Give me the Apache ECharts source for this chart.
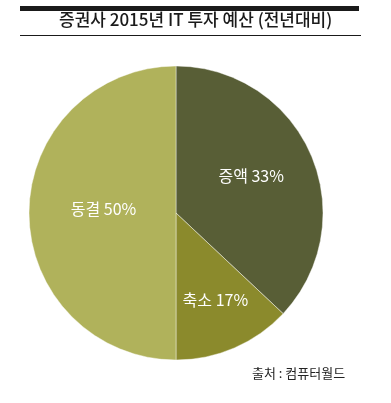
<!DOCTYPE html>
<html><head><meta charset="utf-8">
<script src="https://cdn.jsdelivr.net/npm/echarts@6/dist/echarts.min.js"></script>
<style>html,body{margin:0;padding:0;background:#fff}#c{width:391px;height:403px}</style>
</head><body><div id="c"></div>
<script>
const categories = ['증액', '축소', '동결'];
// percentages printed on the chart
const values = [33, 17, 50];
const sliceShares = [37, 13, 50];
const colors = ['#585e36', '#8b8a2c', '#b0b25b'];
const labelOffsets = [[5, -7], [9, 17], [4, -4]];
const titleText = '증권사 2015년 IT 투자 예산 (전년대비)';
const sourceText = '출처 : 컴퓨터월드';

const chart = echarts.init(document.getElementById('c'));
const font = '"Noto Sans CJK KR", "Noto Sans", sans-serif';
chart.setOption({
  animation: false,
  graphic: [
    { type: 'rect', shape: { x: 20, y: 6, width: 339, height: 5 }, style: { fill: '#1a1a1a' } },
    { type: 'rect', shape: { x: 20, y: 35, width: 341, height: 1 }, style: { fill: '#1a1a1a' } },
    { type: 'text', left: 59, top: 11, style: { text: titleText, font: '500 17px ' + font, fill: '#1a1a1a' } },
    { type: 'text', left: 252, top: 367, style: { text: sourceText, font: '13px ' + font, fill: '#222' } }
  ],
  series: [{
    type: 'pie',
    center: [176, 213],
    radius: [0, 147],
    startAngle: 90,
    clockwise: true,
    itemStyle: { borderColor: 'rgba(255,255,255,0.6)', borderWidth: 0.7 },
    label: {
      show: true, position: 'inside', color: '#fff',
      fontFamily: font, fontSize: 16,
      formatter: p => p.name + ' ' + values[p.dataIndex] + '%'
    },
    labelLine: { show: false },
    data: categories.map((n, i) => ({
      name: n, value: sliceShares[i],
      itemStyle: { color: colors[i] },
      label: { offset: labelOffsets[i] }
    }))
  }]
});
</script></body></html>
